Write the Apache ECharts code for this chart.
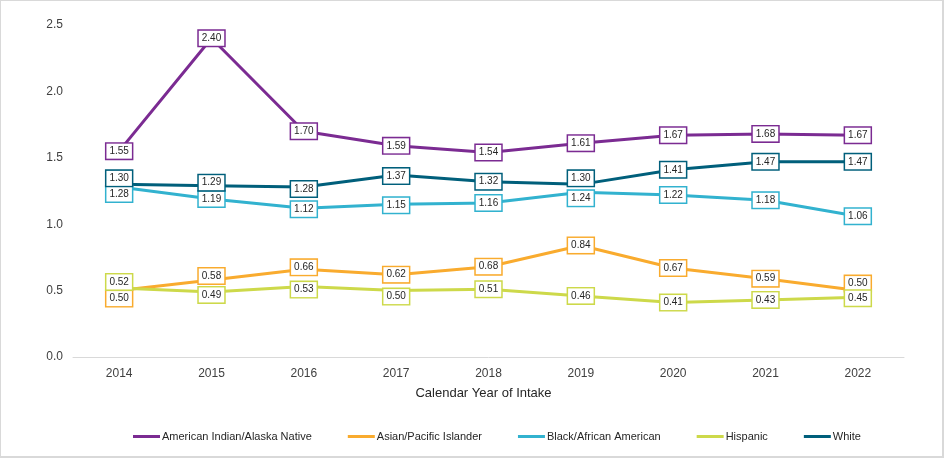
<!DOCTYPE html>
<html>
<head>
<meta charset="utf-8">
<script src="https://cdn.jsdelivr.net/npm/echarts@6/dist/echarts.min.js"></script>
<style>
html,body{margin:0;padding:0;background:#fff;}
#chart{width:944px;height:458px;box-sizing:border-box;border:1px solid #d9d9d9;border-right-width:2px;border-bottom-width:2px;}
</style>
</head>
<body>
<div id="chart"></div>
<script>
const years = ['2014','2015','2016','2017','2018','2019','2020','2021','2022'];
const americanIndian = [1.55, 2.40, 1.70, 1.59, 1.54, 1.61, 1.67, 1.68, 1.67];
const asianPacific = [0.50, 0.58, 0.66, 0.62, 0.68, 0.84, 0.67, 0.59, 0.50];
const blackAfrican = [1.28, 1.19, 1.12, 1.15, 1.16, 1.24, 1.22, 1.18, 1.06];
const hispanic = [0.52, 0.49, 0.53, 0.50, 0.51, 0.46, 0.41, 0.43, 0.45];
const white = [1.30, 1.29, 1.28, 1.37, 1.32, 1.30, 1.41, 1.47, 1.47];
const yTicks = [0, 0.5, 1.0, 1.5, 2.0, 2.5];

const seriesNames = ['American Indian/Alaska Native','Asian/Pacific Islander','Black/African American','Hispanic','White'];
const seriesValues = [americanIndian, asianPacific, blackAfrican, hispanic, white];
const seriesColors = ['#7b2b92', '#f9ab2e', '#32b2cf', '#cdd94a', '#005f7b'];
// label vertical nudges (series -> index -> px), to keep overlapping boxes readable
const nudges = [
  {},
  {0: 8, 1: -4, 2: -2, 8: -7},
  {0: 7, 2: 1, 3: 1, 5: 6},
  {0: -6, 1: 3, 2: 3, 3: 6, 8: 1},
  {0: -6, 1: -3, 2: 2, 3: 1, 5: -6}
];

const FONT = 'Liberation Sans, Arial, sans-serif';

function lineSeries(k) {
  return {
    name: seriesNames[k],
    type: 'line',
    data: seriesValues[k],
    symbol: 'none',
    itemStyle: {color: seriesColors[k]},
    lineStyle: {color: seriesColors[k], width: 3},
    z: 2,
    emphasis: {disabled: true},
    animation: false
  };
}

function labelSeries(k) {
  const color = seriesColors[k];
  return {
    name: seriesNames[k] + ' labels',
    type: 'line',
    data: seriesValues[k].map((v, i) => ({
      value: v,
      label: nudges[k][i] ? {offset: [0, nudges[k][i]]} : undefined
    })),
    symbol: 'circle',
    symbolSize: 1,
    itemStyle: {color: color},
    lineStyle: {opacity: 0, width: 0},
    z: 5,
    label: {
      show: true,
      position: 'inside',
      formatter: p => p.value.toFixed(2),
      fontFamily: FONT,
      fontSize: 10,
      color: '#262626',
      backgroundColor: '#fff',
      borderColor: color,
      borderWidth: 1.5,
      padding: [3, 3, 2, 3]
    },
    emphasis: {disabled: true},
    silent: true,
    animation: false
  };
}

const series = [];
for (let k = 0; k < 5; k++) series.push(lineSeries(k));
for (let k = 0; k < 5; k++) series.push(labelSeries(k));

const chart = echarts.init(document.getElementById('chart'), null, {renderer: 'canvas'});
chart.setOption({
  backgroundColor: '#fff',
  animation: false,
  grid: {left: 72, right: 38, top: 24, bottom: 99},
  legend: {
    top: 425,
    left: 127,
    itemWidth: 27,
    itemHeight: 3,
    itemGap: 36,
    icon: 'rect',
    textStyle: {fontFamily: FONT, fontSize: 11, color: '#262626', padding: [0, 0, 0, -3]},
    data: seriesNames
  },
  xAxis: {
    type: 'category',
    data: years,
    boundaryGap: true,
    axisLine: {lineStyle: {color: '#d9d9d9', width: 1}},
    axisTick: {show: false},
    axisLabel: {color: '#404040', fontSize: 12, fontFamily: FONT, margin: 11},
    name: 'Calendar Year of Intake',
    nameLocation: 'middle',
    nameGap: 30,
    nameTextStyle: {color: '#262626', fontSize: 13, fontFamily: FONT, padding: [0, 10, 0, 0]}
  },
  yAxis: {
    type: 'value',
    min: yTicks[0],
    max: yTicks[yTicks.length - 1],
    interval: 0.5,
    splitLine: {show: false},
    axisLine: {show: false},
    axisTick: {show: false},
    axisLabel: {color: '#404040', fontSize: 12, fontFamily: FONT, margin: 10,
      formatter: v => v.toFixed(1)}
  },
  series: series
});
</script>
</body>
</html>
